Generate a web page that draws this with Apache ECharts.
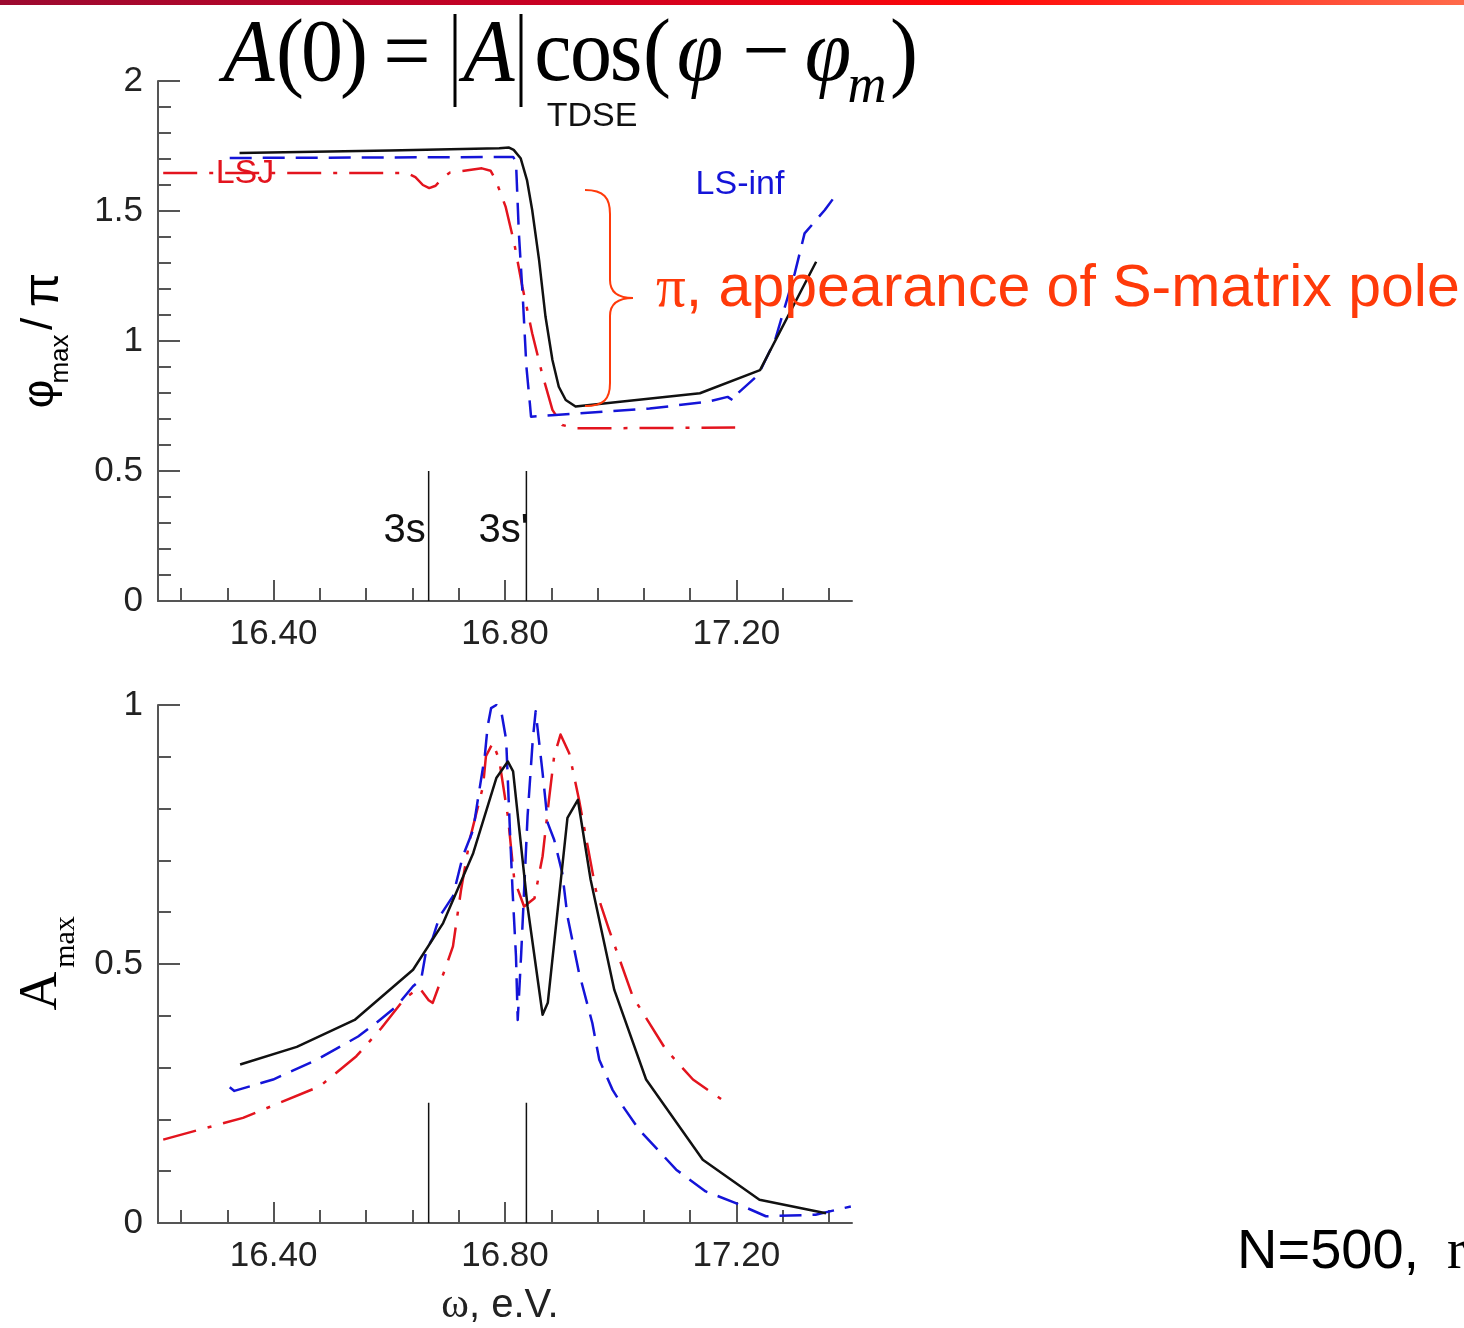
<!DOCTYPE html>
<html>
<head>
<meta charset="utf-8">
<script src="https://cdn.jsdelivr.net/npm/echarts@6/dist/echarts.min.js"></script>
<style>
html, body { margin: 0; padding: 0; background: #fff; }
#chart { width: 1464px; height: 1328px; }
</style>
</head>
<body>
<div id="chart"></div>
<script>
// Photon energy axis, e.V.
const X_MIN = 16.2;
const X_MAX = 17.4;
const X_MAJOR = [16.40, 16.80, 17.20];
const X_MINOR = [16.24, 16.32, 16.48, 16.56, 16.64, 16.72, 16.88, 16.96, 17.04, 17.12, 17.28, 17.36];

// Phase of the maximum, phi_max / pi
const phiTdseX = [16.341, 16.600, 16.790, 16.807, 16.815, 16.827, 16.838, 16.847, 16.859, 16.870, 16.882, 16.893, 16.905, 16.922, 17.137, 17.241, 17.338];
const phiTdseY = [1.723, 1.733, 1.741, 1.744, 1.735, 1.703, 1.619, 1.504, 1.310, 1.094, 0.927, 0.824, 0.773, 0.748, 0.799, 0.888, 1.305];

const phiLsInfX = [16.324, 16.600, 16.814, 16.819, 16.824, 16.831, 16.837, 16.843, 16.845, 16.887, 17.050, 17.152, 17.185, 17.195, 17.203, 17.238, 17.267, 17.301, 17.318, 17.353, 17.370];
const phiLsInfY = [1.704, 1.706, 1.708, 1.690, 1.414, 1.158, 0.901, 0.760, 0.709, 0.715, 0.740, 0.767, 0.785, 0.770, 0.800, 0.870, 1.004, 1.260, 1.414, 1.504, 1.555];

const phiLsjX = [16.209, 16.630, 16.645, 16.658, 16.669, 16.680, 16.691, 16.705, 16.760, 16.775, 16.784, 16.801, 16.816, 16.830, 16.847, 16.864, 16.882, 16.899, 16.922, 17.198];
const phiLsjY = [1.646, 1.646, 1.630, 1.600, 1.588, 1.597, 1.625, 1.648, 1.664, 1.655, 1.619, 1.517, 1.376, 1.209, 1.030, 0.876, 0.735, 0.677, 0.664, 0.667];

// Amplitude of the maximum, A_max
const ampTdseX = [16.342, 16.440, 16.540, 16.641, 16.693, 16.745, 16.785, 16.805, 16.814, 16.839, 16.865, 16.874, 16.908, 16.926, 16.948, 16.989, 17.044, 17.142, 17.240, 17.355];
const ampTdseY = [0.306, 0.340, 0.392, 0.489, 0.579, 0.714, 0.859, 0.891, 0.872, 0.611, 0.402, 0.425, 0.782, 0.817, 0.663, 0.450, 0.277, 0.122, 0.045, 0.019];

const ampLsInfX = [16.324, 16.332, 16.399, 16.474, 16.546, 16.577, 16.612, 16.641, 16.655, 16.664, 16.675, 16.687, 16.710, 16.727, 16.745, 16.753, 16.765, 16.770, 16.776, 16.785, 16.793, 16.802, 16.808, 16.813, 16.819, 16.822, 16.828, 16.839, 16.848, 16.853, 16.865, 16.874, 16.885, 16.899, 16.908, 16.928, 16.951, 16.963, 16.986, 17.004, 17.032, 17.096, 17.147, 17.198, 17.251, 17.337, 17.398];
const ampLsInfY = [0.262, 0.255, 0.277, 0.315, 0.360, 0.386, 0.418, 0.457, 0.470, 0.528, 0.550, 0.592, 0.631, 0.708, 0.759, 0.817, 0.901, 0.959, 0.994, 1.000, 0.991, 0.933, 0.772, 0.643, 0.515, 0.392, 0.520, 0.785, 0.933, 0.988, 0.869, 0.772, 0.740, 0.676, 0.592, 0.483, 0.386, 0.315, 0.257, 0.225, 0.180, 0.103, 0.061, 0.039, 0.013, 0.016, 0.032];

const ampLsjX = [16.209, 16.347, 16.480, 16.543, 16.586, 16.627, 16.652, 16.668, 16.675, 16.698, 16.710, 16.724, 16.739, 16.762, 16.767, 16.779, 16.790, 16.805, 16.816, 16.833, 16.851, 16.865, 16.876, 16.885, 16.896, 16.911, 16.928, 16.957, 16.980, 17.021, 17.078, 17.125, 17.188];
const ampLsjY = [0.161, 0.203, 0.264, 0.322, 0.376, 0.434, 0.454, 0.430, 0.425, 0.495, 0.534, 0.643, 0.740, 0.843, 0.901, 0.927, 0.894, 0.785, 0.663, 0.611, 0.627, 0.708, 0.817, 0.901, 0.943, 0.907, 0.817, 0.643, 0.566, 0.437, 0.335, 0.277, 0.228];

// Bound-state markers 3s and 3s'
const levelNames = ['3s', "3s'"];
const levelX = [16.668, 16.837];
const levelTopPhi = 0.5;
const levelTopAmp = 0.232;
const levelLabelPhi = 0.27;

const SANS = '"Liberation Sans", Arial, sans-serif';
const SERIF = '"Liberation Serif", "Times New Roman", serif';
const AXIS = '#555';
const BLACK = '#111';
const BLUE = '#1414d8';
const RED = '#e3141e';
const NOTE = '#ff3a0a';

const pairs = (xs, ys) => xs.map((x, i) => [x, ys[i]]);

function xMajor(gridIndex) {
  return {
    type: 'value', gridIndex, min: X_MIN, max: X_MAX, position: 'bottom', offset: 0,
    axisLine: { show: true, onZero: false, lineStyle: { color: AXIS, width: 2 } },
    axisTick: { show: true, inside: true, length: 21, customValues: X_MAJOR, lineStyle: { color: AXIS, width: 2 } },
    axisLabel: { show: true, customValues: X_MAJOR, formatter: v => v.toFixed(2), margin: 16, fontSize: 35, color: '#222', fontFamily: SANS },
    splitLine: { show: false }
  };
}
function xMinor(gridIndex) {
  return {
    type: 'value', gridIndex, min: X_MIN, max: X_MAX, position: 'bottom', offset: 0,
    axisLine: { show: false, onZero: false },
    axisTick: { show: true, inside: true, length: 13, customValues: X_MINOR, lineStyle: { color: AXIS, width: 2 } },
    axisLabel: { show: false },
    splitLine: { show: false }
  };
}
function yAxis(gridIndex, max) {
  return {
    type: 'value', gridIndex, min: 0, max, interval: 0.5,
    axisLine: { show: true, onZero: false, lineStyle: { color: AXIS, width: 2 } },
    axisTick: { show: true, inside: true, length: 22, lineStyle: { color: AXIS, width: 2 } },
    minorTick: { show: true, splitNumber: 5, length: 13, lineStyle: { color: AXIS, width: 2 } },
    axisLabel: { margin: 15, fontSize: 35, color: '#222', fontFamily: SANS },
    splitLine: { show: false }, minorSplitLine: { show: false }
  };
}
function curve(name, data, xi, yi, color, type, width) {
  return {
    name, type: 'line', data, xAxisIndex: xi, yAxisIndex: yi,
    showSymbol: false, symbol: 'none', animation: false, silent: true,
    lineStyle: { color, width, type, cap: 'butt', join: 'round' }
  };
}

const DASH = [22, 11];
const DASH_DOT = [34, 12, 4, 12];

const series = [
  curve('LSJ', pairs(phiLsjX, phiLsjY), 0, 0, RED, DASH_DOT, 2.5),
  curve('LS-inf', pairs(phiLsInfX, phiLsInfY), 0, 0, BLUE, DASH, 2.5),
  curve('TDSE', pairs(phiTdseX, phiTdseY), 0, 0, BLACK, 'solid', 2.5),
  curve('LSJ', pairs(ampLsjX, ampLsjY), 2, 1, RED, DASH_DOT, 2.5),
  curve('LS-inf', pairs(ampLsInfX, ampLsInfY), 2, 1, BLUE, DASH, 2.5),
  curve('TDSE', pairs(ampTdseX, ampTdseY), 2, 1, BLACK, 'solid', 2.5)
];
levelX.forEach((x, i) => {
  series.push(curve(levelNames[i], [[x, 0], [x, levelTopPhi]], 0, 0, BLACK, 'solid', 1.5));
  series.push(curve(levelNames[i], [[x, 0], [x, levelTopAmp]], 2, 1, BLACK, 'solid', 1.5));
});

const chart = echarts.init(document.getElementById('chart'), null, { renderer: 'canvas', width: 1464, height: 1328 });
chart.setOption({
  backgroundColor: '#fff',
  animation: false,
  grid: [
    { left: 158, top: 81, width: 694, height: 520 },
    { left: 158, top: 705, width: 694, height: 518 }
  ],
  xAxis: [xMajor(0), xMinor(0), xMajor(1), xMinor(1)],
  yAxis: [yAxis(0, 2), yAxis(1, 1)],
  series
});

function txt(text, x, y, font, opts) {
  return Object.assign({
    type: 'text', x, y, z: 10, silent: true,
    style: Object.assign({ text, font, fill: '#000', align: 'left', verticalAlign: 'middle' }, (opts && opts.style) || {})
  }, (opts && opts.el) || {});
}

const graphics = [];
// slide header bar
graphics.push({
  type: 'rect', x: 0, y: 0, z: 1, silent: true,
  shape: { width: 1464, height: 5 },
  style: { fill: new echarts.graphic.LinearGradient(0, 0, 1, 0, [
    { offset: 0, color: '#9c0a30' },
    { offset: 0.4, color: '#cc0022' },
    { offset: 0.67, color: '#ff0808' },
    { offset: 1, color: '#ff6a4a' }
  ]) }
});

// formula A(0) = |A| cos(phi - phi_m), one glyph at a time
const F = 84;
const fy = 57;
const formula = [
  ['A', 249, true], ['(', 290, false], ['0', 322, false], [')', 354, false], ['=', 407, false],
  ['A', 489, true], ['c', 553, false], ['o', 591, false], ['s', 626, false], ['(', 657, false],
  ['φ', 700, true], ['−', 766, false], ['φ', 828, true], [')', 904, false]
];
formula.forEach(([g, cx, it]) => graphics.push(
  txt(g, cx, fy, `${it ? 'italic ' : ''}${F}px ${SERIF}`, { style: { align: 'center' }, el: { scaleY: 1.06 } })
));
graphics.push(txt('m', 867, 88, `italic 54px ${SERIF}`, { style: { align: 'center' } }));
[455, 521].forEach(x => graphics.push({
  type: 'line', z: 10, silent: true,
  shape: { x1: x, y1: 14, x2: x, y2: 107 },
  style: { stroke: '#000', lineWidth: 3 }
}));

// curve names
graphics.push(txt('TDSE', 592, 117, `34px ${SANS}`, { style: { align: 'center', fill: BLACK } }));
graphics.push(txt('LS-inf', 740, 185, `34px ${SANS}`, { style: { align: 'center', fill: BLUE } }));
graphics.push(txt('LSJ', 245, 174, `34px ${SANS}`, { style: { align: 'center', fill: RED } }));

// brace and note on the phase jump
const brace = [
  { x1: 585, y1: 190, cpx1: 604, cpy1: 190, cpx2: 610, cpy2: 198, x2: 610, y2: 214 },
  { x1: 610, y1: 280, cpx1: 610, cpy1: 292, cpx2: 618, cpy2: 298, x2: 633, y2: 298 },
  { x1: 633, y1: 298, cpx1: 618, cpy1: 298, cpx2: 610, cpy2: 304, x2: 610, y2: 316 },
  { x1: 610, y1: 383, cpx1: 610, cpy1: 399, cpx2: 604, cpy2: 406, x2: 585, y2: 406 }
];
brace.forEach(s => graphics.push({ type: 'bezierCurve', z: 10, silent: true, shape: s, style: { stroke: NOTE, lineWidth: 2, fill: null } }));
graphics.push({ type: 'line', z: 10, silent: true, shape: { x1: 610, y1: 214, x2: 610, y2: 280 }, style: { stroke: NOTE, lineWidth: 2 } });
graphics.push({ type: 'line', z: 10, silent: true, shape: { x1: 610, y1: 316, x2: 610, y2: 383 }, style: { stroke: NOTE, lineWidth: 2 } });
graphics.push({
  type: 'text', x: 656, y: 290, z: 10, silent: true,
  style: {
    text: '{p|π}{t|, appearance of S-matrix pole}', verticalAlign: 'middle', align: 'left',
    rich: {
      p: { font: `59px ${SERIF}`, fill: NOTE },
      t: { font: `59px ${SANS}`, fill: NOTE }
    }
  }
});

// level labels placed through the axis scale
levelX.forEach((x, i) => {
  const p = chart.convertToPixel({ xAxisIndex: 0, yAxisIndex: 0 }, [x, levelLabelPhi]);
  graphics.push(txt(levelNames[i], p[0] + (i === 0 ? -3 : 2), p[1], `40px ${SANS}`, { style: { align: 'right', fill: BLACK } }));
});

// axis names
const ROT = { rotation: Math.PI / 2 };
graphics.push(txt('φ', 41, 394, `44px ${SANS}`, { style: { align: 'center' }, el: ROT }));
graphics.push(txt('max', 61, 359, `26px ${SANS}`, { style: { align: 'center' }, el: ROT }));
graphics.push(txt('/', 40, 324, `44px ${SANS}`, { style: { align: 'center' }, el: ROT }));
graphics.push(txt('π', 44, 290, `50px ${SANS}`, { style: { align: 'center' }, el: ROT }));
graphics.push(txt('A', 42, 991, `54px ${SERIF}`, { style: { align: 'center' }, el: ROT }));
graphics.push(txt('max', 66, 942, `30px ${SERIF}`, { style: { align: 'center' }, el: ROT }));
graphics.push({
  type: 'text', x: 500, y: 1306, z: 10, silent: true,
  style: {
    text: '{w|ω}{t|, e.V.}', verticalAlign: 'middle', align: 'center',
    rich: { w: { font: `42px ${SERIF}`, fill: '#222' }, t: { font: `40px ${SANS}`, fill: '#222' } }
  }
});

// run parameters
graphics.push(txt('N=500,', 1237, 1253, `56px ${SANS}`));
graphics.push(txt('r', 1447, 1253, `56px ${SERIF}`));

chart.setOption({ graphic: { elements: graphics } });
</script>
</body>
</html>
